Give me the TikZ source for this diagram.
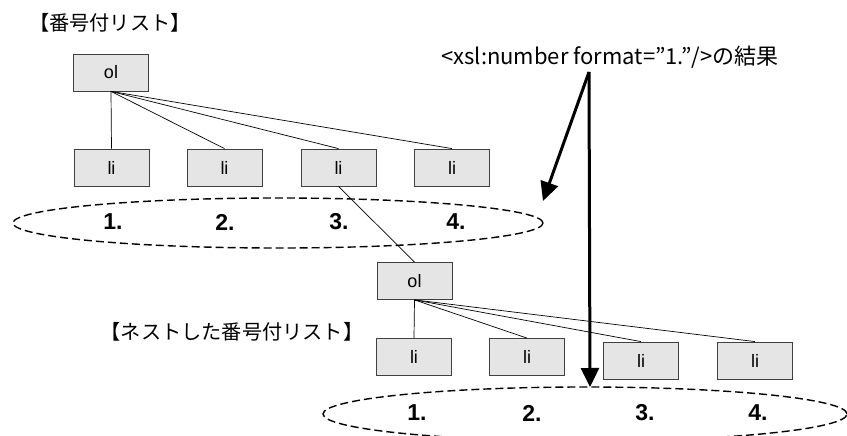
\documentclass[tikz,border=0pt]{standalone}
\usepackage{fontspec}
\setmainfont{Liberation Sans}
\newfontfamily\jp{Noto Sans CJK JP}
\usetikzlibrary{arrows.meta,shapes.geometric}
\begin{document}
\begin{tikzpicture}[x=1pt,y=-1pt,
  box/.style={draw=black!75, fill=black!10, line width=0.8pt, minimum width=75pt, minimum height=37pt, inner sep=0pt, font=\fontsize{18}{18}\selectfont},
  num/.style={font=\fontsize{23}{23}\selectfont\bfseries, inner sep=0pt},
  link/.style={draw=black, line width=0.7pt},
  oval/.style={draw=black, line width=1.4pt, dash pattern=on 8pt off 4pt, ellipse, inner sep=0pt},
  bigarrow/.style={draw=black, line width=3pt, -{Triangle[length=19pt,width=18pt]}},
  head/.style={font=\jp\fontsize{20.2}{21}\selectfont, inner sep=0pt},
  note/.style={font=\jp\fontsize{22}{23}\selectfont, inner sep=0pt}]
\useasboundingbox (0,0) rectangle (847,436);
% headings
\node[head] (h1) at (110,23) {【番号付リスト】};
\node[head] (h2) at (232,332) {【ネストした番号付リスト】};
\node[note] (note) at (610,57) {<xsl:number format=”1.”/>の結果};
% ellipses
\node[oval, minimum width=530pt, minimum height=50pt] (ov1) at (278,223) {};
\node[oval, minimum width=524pt, minimum height=54pt] (ov2) at (585,414) {};
% first tree
\node[box] (ol1) at (111,72.5) {ol};
\node[box] (a1) at (111.5,167.5) {li};
\node[box] (a2) at (224.5,167.5) {li};
\node[box] (a3) at (338.5,167.5) {li};
\node[box] (a4) at (452,167.5) {li};
\foreach \n in {a1,a2,a3,a4} \draw[link] (ol1.south) -- (\n.north);
% second tree
\node[box] (ol2) at (414.5,281) {ol};
\node[box] (b1) at (414,357) {li};
\node[box] (b2) at (527,357) {li};
\node[box] (b3) at (641,360.5) {li};
\node[box] (b4) at (755,360.5) {li};
\foreach \n in {b1,b2,b3,b4} \draw[link] (ol2.south) -- (\n.north);
\draw[link] (a3.south) -- (ol2.north);
% numbers
\node[num] (n1) at (113,222) {1.};
\node[num] (n2) at (225,222) {2.};
\node[num] (n3) at (339,222) {3.};
\node[num] (n4) at (456,222) {4.};
\node[num] (m1) at (417,413) {1.};
\node[num] (m2) at (532,413) {2.};
\node[num] (m3) at (645,413) {3.};
\node[num] (m4) at (758,413) {4.};
% arrows
\coordinate (src) at (589,72);
\coordinate (t1) at (543,201);
\coordinate (t2) at (590,387);
\draw[bigarrow] (src) -- (t1);
\draw[bigarrow] (src) -- (t2);
\end{tikzpicture}
\end{document}
